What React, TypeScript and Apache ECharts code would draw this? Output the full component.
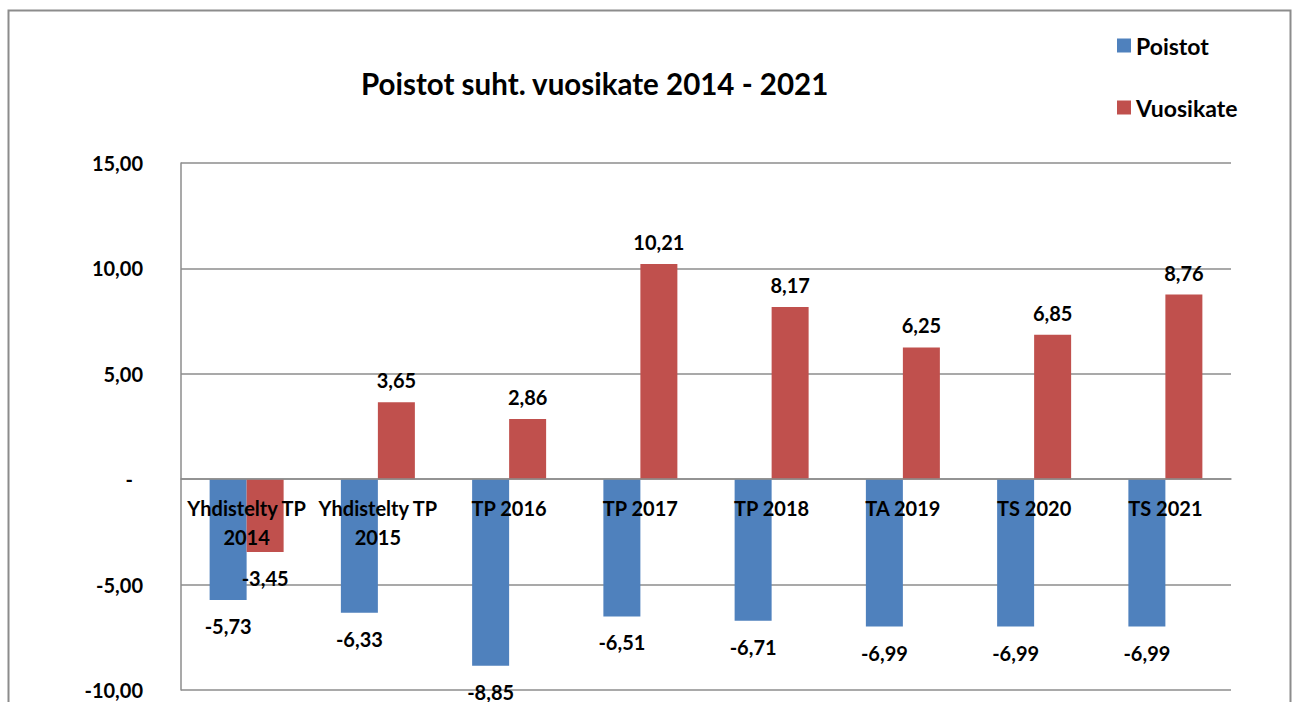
import React, { useEffect, useRef } from "react";
import * as echarts from "echarts";

const categories = [
  "Yhdistelty TP\n2014",
  "Yhdistelty TP\n2015",
  "TP 2016",
  "TP 2017",
  "TP 2018",
  "TA 2019",
  "TS 2020",
  "TS 2021",
];
const poistot = [-5.73, -6.33, -8.85, -6.51, -6.71, -6.99, -6.99, -6.99];
const vuosikate = [-3.45, 3.65, 2.86, 10.21, 8.17, 6.25, 6.85, 8.76];
const titleText = "Poistot suht. vuosikate 2014 - 2021";
const yMin = -10;
const yMax = 15;
const yStep = 5;

const FONT = "Lato, 'Open Sans', sans-serif";
const fmt = (v: number) => v.toFixed(2).replace(".", ",");

const W = 1294;
const H = 702;
const GRID = { left: 181, right: 63, top: 163, bottom: 12 };

const toData = (arr: number[]) =>
  arr.map((v) => ({
    value: v,
    label: { position: v < 0 ? "bottom" : "top", distance: v < 0 ? 16 : 12 },
  }));

export default function App() {
  const ref = useRef<HTMLDivElement>(null);
  useEffect(() => {
    document.body.style.margin = "0";
    const chart = echarts.init(ref.current!, null, { renderer: "svg" });
    const plotH = H - GRID.top - GRID.bottom;
    const zeroOffset = -((0 - yMin) / (yMax - yMin)) * plotH;
    const labelStyle = {
      show: true,
      fontFamily: FONT,
      fontWeight: "bold",
      fontSize: 20,
      color: "#000",
      formatter: (p: any) => fmt(p.value),
    };
    chart.setOption({
      animation: false,
      backgroundColor: "#fff",
      title: {
        text: titleText,
        left: 356,
        top: 63,
        textStyle: { fontFamily: FONT, fontWeight: "bold", fontSize: 29.5, color: "#000" },
      },
      legend: {
        orient: "vertical",
        left: 1112,
        top: 29,
        itemWidth: 14,
        itemHeight: 14,
        itemGap: 39,
        icon: "rect",
        textStyle: { fontFamily: FONT, fontWeight: "bold", fontSize: 23, color: "#000" },
        data: ["Poistot", "Vuosikate"],
      },
      graphic: [
        {
          type: "rect",
          shape: { x: 8.5, y: 10.5, width: 1282, height: 720 },
          style: { fill: "none", stroke: "#8c8c8c", lineWidth: 2 },
          silent: true,
        },
      ],
      grid: { ...GRID, containLabel: false, outerBoundsMode: "none" },
      xAxis: {
        type: "category",
        data: categories,
        position: "bottom",
        offset: zeroOffset,
        z: 5,
        axisLine: { show: true, onZero: false, lineStyle: { color: "#8c8c8c", width: 1.5 } },
        axisTick: { show: false },
        axisLabel: {
          fontFamily: FONT,
          fontWeight: "bold",
          fontSize: 20,
          color: "#000",
          lineHeight: 29,
          margin: 14,
          interval: 0,
        },
      },
      yAxis: {
        type: "value",
        min: yMin,
        max: yMax,
        interval: yStep,
        axisLine: { show: true, lineStyle: { color: "#8c8c8c", width: 1.5 } },
        axisTick: { show: false },
        splitLine: { show: true, lineStyle: { color: "#8c8c8c", width: 1.5 } },
        axisLabel: {
          fontFamily: FONT,
          fontWeight: "bold",
          fontSize: 20,
          color: "#000",
          margin: 38,
          formatter: (v: number) => (v === 0 ? "{z|-}" : fmt(v)),
          rich: { z: { fontFamily: FONT, fontWeight: "bold", fontSize: 20, color: "#000", padding: [0, 10, 0, 0] } },
        },
      },
      series: [
        {
          name: "Poistot",
          type: "bar",
          data: toData(poistot),
          barWidth: 37,
          barGap: "0%",
          itemStyle: { color: "#4F81BD" },
          label: labelStyle,
        },
        {
          name: "Vuosikate",
          type: "bar",
          data: toData(vuosikate),
          barWidth: 37,
          barGap: "0%",
          itemStyle: { color: "#C0504D" },
          label: labelStyle,
        },
      ],
    });
    return () => chart.dispose();
  }, []);
  return <div ref={ref} style={{ width: W, height: H }} />;
}
